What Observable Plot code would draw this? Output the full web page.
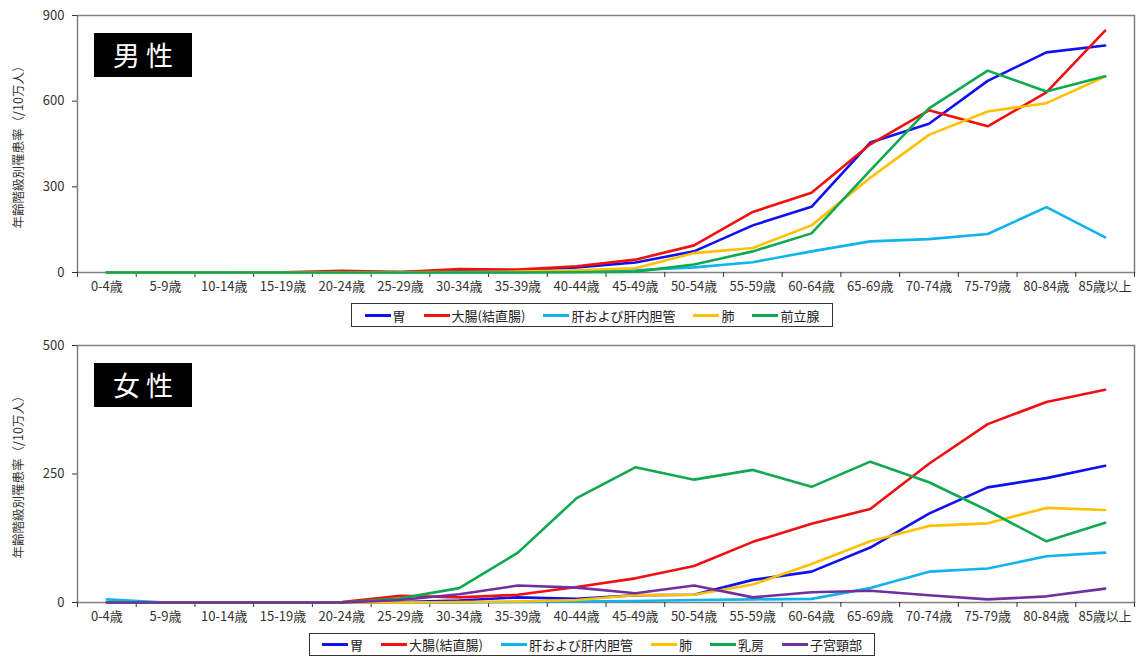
<!DOCTYPE html>
<html><head><meta charset="utf-8">
<script src="https://cdn.jsdelivr.net/npm/d3@7"></script>
<script src="https://cdn.jsdelivr.net/npm/@observablehq/plot@0.6"></script>
<style>
body{margin:0;background:#fff;font-family:"Noto Sans CJK JP","Noto Sans",sans-serif;}
#wrap{position:relative;width:1139px;height:657px;overflow:hidden;background:#fff}
.chart{position:absolute;left:0}
.badge{position:absolute;left:94px;width:98px;height:44px;background:#000;color:#fff;font-size:27px;line-height:44px;text-align:center;}
.legend{position:absolute;border:1px solid #333;display:flex;align-items:center;justify-content:center;font-size:13px;color:#222;box-sizing:border-box;background:#fff}
.item{display:flex;align-items:center;margin:0 9px;white-space:nowrap}
.sw{width:26px;height:3px;margin-right:2px}
</style>
</head><body>
<div id="wrap"></div>
<script>
// ---- data ----
const ages = ["0-4歳","5-9歳","10-14歳","15-19歳","20-24歳","25-29歳","30-34歳","35-39歳","40-44歳","45-49歳","50-54歳","55-59歳","60-64歳","65-69歳","70-74歳","75-79歳","80-84歳","85歳以上"];
const yTitle = "年齢階級別罹患率（/10万人）";

const maleNames = ["胃","大腸(結直腸)","肝および肝内胆管","肺","前立腺"];
const maleStomach  = [0,0,0,0,2,2,5,8,18,35,74,165,230,455,521,671,771,795];
const maleColon    = [0,0,0,1,6,2,12,10,22,45,95,212,279,449,568,512,631,847];
const maleLiver    = [0,0,0,0,0,0,1,2,4,8,18,36,74,109,117,135,229,123];
const maleLung     = [0,0,0,0,0,1,2,3,8,15,68,86,165,332,482,564,593,686];
const maleProstate = [0,0,0,0,0,0,0,0,1,3,28,74,137,358,575,707,634,687];
const maleTicks = [0,300,600,900];

const femaleNames = ["胃","大腸(結直腸)","肝および肝内胆管","肺","乳房","子宮頸部"];
const femaleStomach = [0,0,0,0,0,1,4,10,7,14,15,44,60,107,173,224,242,266];
const femaleColon   = [0,0,0,0,1,13,10,15,30,47,71,118,153,182,270,347,390,414];
const femaleLiver   = [6,0,0,0,0,0,0,1,2,3,5,6,7,28,60,66,90,97];
const femaleLung    = [0,0,0,0,0,0,1,2,5,14,15,35,75,119,149,154,184,180];
const femaleBreast  = [0,0,0,0,0,8,28,97,203,263,239,258,225,274,234,179,119,155];
const femaleCervix  = [0,0,0,0,0,5,16,33,29,18,33,10,20,23,14,6,12,27];
const femaleTicks = [0,250,500];

const maleColors = ["#1010f0","#f01010","#10b4ec","#ffc000","#10a850"];
const femaleColors = ["#1010f0","#f01010","#10b4ec","#ffc000","#10a850","#7030a0"];

// ---- build ----
const wrap = document.getElementById("wrap");

function rowsOf(names, series){
  const rows = [];
  names.forEach((n, j) => series[j].forEach((v, i) => rows.push({i, v, s: n})));
  return rows;
}

function makeChart(names, series, colors, ymax, ticks, top, badgeText, legendBox){
  const rows = rowsOf(names, series);
  const chart = Plot.plot({
    width: 1139, height: 300,
    marginLeft: 77, marginRight: 5, marginTop: 15, marginBottom: 28,
    style: {fontFamily: '"Noto Sans CJK JP","Noto Sans",sans-serif', fontSize: "13px", color: "#333", background: "transparent"},
    x: {domain: [-0.5, ages.length - 0.5]},
    y: {domain: [0, ymax]},
    color: {domain: names, range: colors},
    marks: [
      Plot.frame({stroke: "#808080", strokeWidth: 1.5}),
      Plot.axisY({ticks, tickSize: 5, tickPadding: 8, fontSize: 13, label: null, stroke: "#333"}),
      Plot.axisX({ticks: d3.range(ages.length + 1).map(k => k - 0.5), tickSize: 5, tickFormat: () => "", label: null, stroke: "#333"}),
      Plot.axisX({ticks: d3.range(ages.length), tickSize: 0, tickPadding: 9, tickFormat: i => ages[i], fontSize: 13, label: null}),
      Plot.text([yTitle], {text: d => d, frameAnchor: "left", textAnchor: "middle", dx: -59, rotate: -90, fontSize: 12.5, fill: "#333"}),
      Plot.line(rows, {x: "i", y: "v", z: "s", stroke: "s", strokeWidth: 2.6})
    ]
  });
  chart.classList.add("chart");
  chart.style.top = top + "px";
  wrap.appendChild(chart);

  const b = document.createElement("div");
  b.className = "badge";
  b.style.top = (top + legendBox.badgeTop) + "px";
  b.textContent = badgeText;
  wrap.appendChild(b);

  const lg = document.createElement("div");
  lg.className = "legend";
  Object.assign(lg.style, {left: legendBox.left + "px", top: legendBox.top + "px", width: legendBox.width + "px", height: legendBox.height + "px"});
  names.forEach((n, j) => {
    const it = document.createElement("div");
    it.className = "item";
    const sw = document.createElement("span");
    sw.className = "sw";
    sw.style.background = colors[j];
    const t = document.createElement("span");
    t.textContent = n;
    it.appendChild(sw); it.appendChild(t);
    lg.appendChild(it);
  });
  wrap.appendChild(lg);
}

makeChart(maleNames, [maleStomach, maleColon, maleLiver, maleLung, maleProstate], maleColors, 900, maleTicks, 0, "男 性",
  {badgeTop: 33, left: 351, top: 303, width: 482, height: 24});
makeChart(femaleNames, [femaleStomach, femaleColon, femaleLiver, femaleLung, femaleBreast, femaleCervix], femaleColors, 500, femaleTicks, 330, "女 性",
  {badgeTop: 33, left: 309, top: 633, width: 566, height: 23});
</script>
</body></html>
